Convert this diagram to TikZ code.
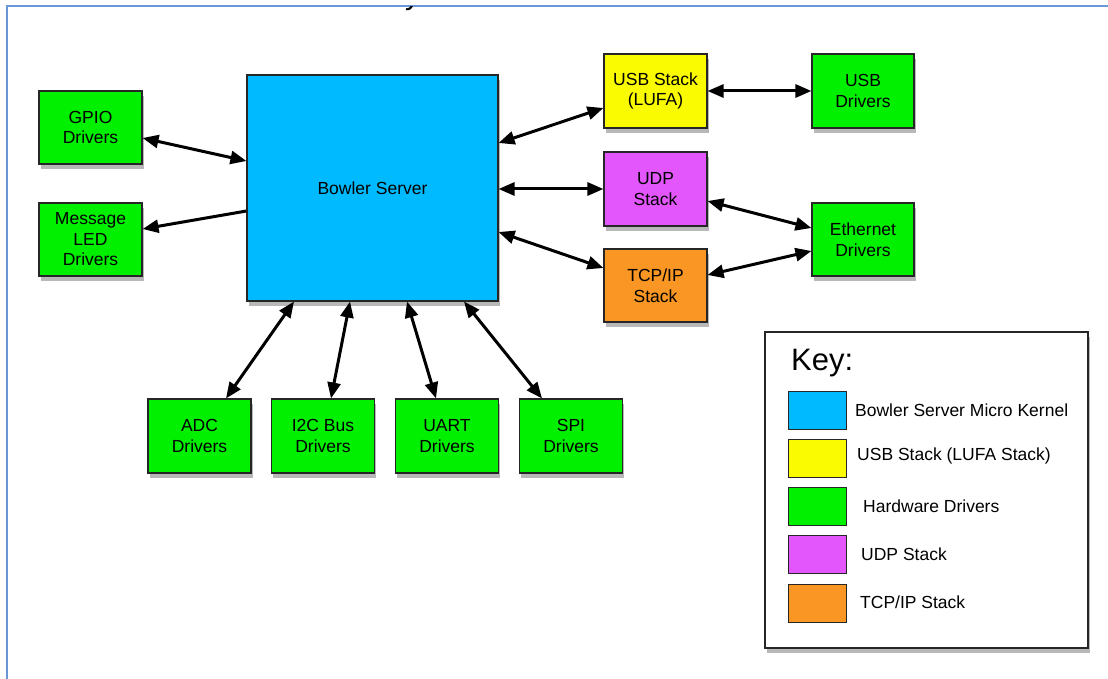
\documentclass[tikz,border=0pt]{standalone}
\usepackage{fontspec}
\setmainfont{Liberation Sans}
\usetikzlibrary{arrows.meta,shadows}
\definecolor{kernelblue}{RGB}{0,186,255}
\definecolor{usbyellow}{RGB}{250,250,0}
\definecolor{hwgreen}{RGB}{0,240,0}
\definecolor{udppurple}{RGB}{226,86,252}
\definecolor{tcporange}{RGB}{250,150,35}
\definecolor{framblue}{RGB}{105,150,212}
\tikzset{
  softshadow/.style={drop shadow={shadow xshift=1.5pt, shadow yshift=-5pt, opacity=0.28, fill=black}},
  blk/.style={draw=black!85, line width=1.1pt, align=center, inner sep=0pt,
    font=\fontsize{17.5}{20.5}\selectfont, softshadow},
  smallblk/.style={blk, minimum width=103pt, minimum height=73pt},
  swatch/.style={draw=black!85, line width=0.9pt, minimum width=58pt, minimum height=38pt, inner sep=0pt},
  keytxt/.style={anchor=west, inner sep=0pt, font=\fontsize{17.5}{20.5}\selectfont},
  conn/.style={line width=3pt, black},
  biarrow/.style={conn, {Triangle[length=16pt,width=13pt]}-{Triangle[length=16pt,width=13pt]}},
  onearrow/.style={conn, -{Triangle[length=16pt,width=13pt]}}
}
\begin{document}
\begin{tikzpicture}[x=1pt,y=-1pt]
\useasboundingbox (0,0) rectangle (1108,679);
% frame
\draw[framblue, line width=2pt] (7,679) -- (7,6) -- (1108,6);
% cut-off title fragment
\begin{scope}
\clip (395,7) rectangle (445,20);
\node[anchor=base west, inner sep=0pt, font=\fontsize{30}{30}\selectfont] (titlefrag) at (405,5) {y};
\end{scope}

% blocks
\node[blk, fill=kernelblue, minimum width=251pt, minimum height=226pt] (bowler) at (372.5,188) {Bowler Server};
\node[smallblk, fill=hwgreen] (gpio) at (90.5,127.5) {GPIO\\Drivers};
\node[smallblk, fill=hwgreen] (msg) at (90.5,239.5) {Message\\LED\\Drivers};
\node[smallblk, fill=usbyellow, minimum height=74pt] (usbstack) at (655.5,91) {USB Stack\\(LUFA)};
\node[smallblk, fill=hwgreen, minimum height=74pt, minimum width=102pt] (usbdrv) at (863,91) {USB\\Drivers};
\node[smallblk, fill=udppurple, minimum height=74pt] (udp) at (655.5,189) {UDP\\Stack};
\node[smallblk, fill=tcporange] (tcp) at (655.5,285.5) {TCP/IP\\Stack};
\node[smallblk, fill=hwgreen, minimum width=102pt] (eth) at (863,239.5) {Ethernet\\Drivers};
\node[smallblk, fill=hwgreen, minimum height=74pt] (adc) at (199.5,436) {ADC\\Drivers};
\node[smallblk, fill=hwgreen, minimum height=74pt] (i2c) at (323,436) {I2C Bus\\Drivers};
\node[smallblk, fill=hwgreen, minimum height=74pt] (uart) at (447,436) {UART\\Drivers};
\node[smallblk, fill=hwgreen, minimum height=74pt] (spi) at (571,436) {SPI\\Drivers};

% connectors
\draw[biarrow] ([yshift=-10.5pt]gpio.east) -- ([yshift=27pt]bowler.west);
\draw[onearrow] ([yshift=-23pt]bowler.west) -- ([yshift=10.5pt]msg.east);
\draw[biarrow] ([yshift=45pt]bowler.east) -- ([yshift=-17pt]usbstack.west);
\draw[biarrow] ([yshift=-1pt]bowler.east) -- (udp.west);
\draw[biarrow] ([yshift=-44pt]bowler.east) -- ([yshift=17.5pt]tcp.west);
\draw[biarrow] (usbstack.east) -- (usbdrv.west);
\draw[biarrow] ([yshift=-12pt]udp.east) -- ([yshift=11.5pt]eth.west);
\draw[biarrow] ([yshift=10.5pt]tcp.east) -- ([yshift=-11.5pt]eth.west);
\draw[biarrow] ([xshift=-78.5pt]bowler.south) -- ([xshift=26.5pt]adc.north);
\draw[biarrow] ([xshift=-22.5pt]bowler.south) -- ([xshift=8pt]i2c.north);
\draw[biarrow] ([xshift=34.5pt]bowler.south) -- ([xshift=-11pt]uart.north);
\draw[biarrow] ([xshift=91.5pt]bowler.south) -- ([xshift=-29pt]spi.north);

% key
\node[draw=black!85, line width=1.1pt, fill=white, minimum width=323pt, minimum height=316pt, inner sep=0pt,
  softshadow] (keybox) at (926.5,490) {};
\node[anchor=base west, inner sep=0pt, font=\fontsize{31}{31}\selectfont] (keytitle) at (791,370) {Key:};
\node[swatch, fill=kernelblue] (swk) at (817,410) {};
\node[swatch, fill=usbyellow] (swu) at (817,458) {};
\node[swatch, fill=hwgreen] (swh) at (817,506.5) {};
\node[swatch, fill=udppurple] (swd) at (817,554.5) {};
\node[swatch, fill=tcporange] (swt) at (817,603) {};
\node[keytxt] (lk) at (855,410) {Bowler Server Micro Kernel};
\node[keytxt] (lu) at (857,456) {USB Stack (LUFA Stack)};
\node[keytxt] (lh) at (863,506) {Hardware Drivers};
\node[keytxt] (ld) at (861,554) {UDP Stack};
\node[keytxt] (lt) at (860,602) {TCP/IP Stack};
\end{tikzpicture}
\end{document}
